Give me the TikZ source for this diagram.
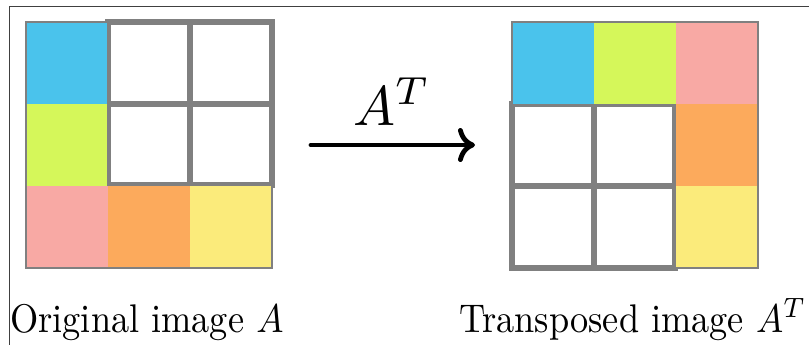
\documentclass[tikz,border=0pt]{standalone}
\usepackage{graphicx}
\usetikzlibrary{arrows.meta}
\definecolor{gridgray}{HTML}{808080}
\definecolor{cblue}{HTML}{4AC3EC}
\definecolor{cgreen}{HTML}{D5F75A}
\definecolor{cpink}{HTML}{F8A9A4}
\definecolor{corange}{HTML}{FCAA5C}
\definecolor{cyellow}{HTML}{FBEB7B}
\definecolor{framegray}{HTML}{404040}
\tikzset{
  whitecell/.style={draw=gridgray, line width=5.5pt, fill=white},
  outerbox/.style={draw=gridgray, line width=2pt},
  caption/.style={anchor=base west, inner sep=0pt},
}
\begin{document}
\begin{tikzpicture}[x=1pt,y=-1pt]
\useasboundingbox (0,0) rectangle (809,345);
\fill[white] (0,0) rectangle (809,345);
% frame
\draw[framegray, line width=1pt] (809,7) -- (9,7) -- (9,345);
% left grid (original)
\draw[whitecell] (108,22) rectangle (190,104);
\draw[whitecell] (190,22) rectangle (272,104);
\draw[whitecell] (108,104) rectangle (190,185);
\draw[whitecell] (190,104) rectangle (272,185);
\fill[cblue] (26,22) rectangle (107,104);
\fill[cgreen] (26,104) rectangle (107,186);
\fill[cpink] (26,186) rectangle (108,268);
\fill[corange] (108,186) rectangle (190,268);
\fill[cyellow] (190,186) rectangle (272,268);
\draw[outerbox] (26,22) rectangle (272,268);
% right grid (transposed)
\draw[whitecell] (512,104) rectangle (594,186);
\draw[whitecell] (594,104) rectangle (675,186);
\draw[whitecell] (512,186) rectangle (594,268);
\draw[whitecell] (594,186) rectangle (675,268);
\fill[cblue] (512,22) rectangle (594,104);
\fill[cgreen] (594,22) rectangle (676,104);
\fill[cpink] (676,22) rectangle (758,104);
\fill[corange] (676,104) rectangle (758,186);
\fill[cyellow] (676,186) rectangle (758,268);
\draw[outerbox] (512,22) rectangle (758,268);
% arrow
\coordinate (arrS) at (311,145);
\coordinate (arrE) at (475,145);
\draw[line width=4.8pt, line cap=round, -{Computer Modern Rightarrow[length=17pt,width=34pt]}] (arrS) -- (arrE);
\node[caption] (lab) at (353,125) {\scalebox{5.6}{$A^T$}};
% captions
\node[caption] (capA) at (10,332) {\scalebox{3.63}[4.0]{Original image $A$}};
\node[caption] (capB) at (459,332) {\scalebox{3.63}[4.0]{Transposed image $A^T$}};
\end{tikzpicture}
\end{document}
